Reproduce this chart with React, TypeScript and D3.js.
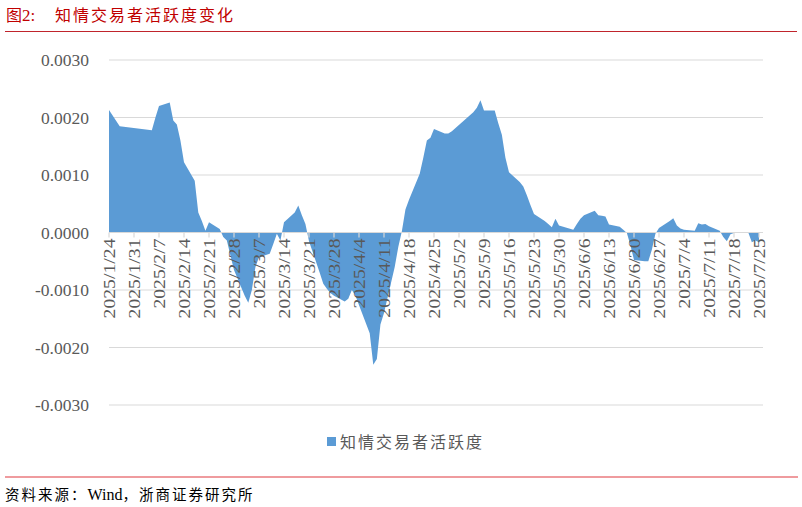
import React from 'react';
import * as d3 from 'd3';

// trading days and indicator values
const dates = [
  '2025-01-24', '2025-01-27',
  '2025-02-05', '2025-02-06', '2025-02-07', '2025-02-10', '2025-02-11', '2025-02-12', '2025-02-13', '2025-02-14',
  '2025-02-17', '2025-02-18', '2025-02-19', '2025-02-20', '2025-02-21', '2025-02-24', '2025-02-25', '2025-02-26',
  '2025-02-27', '2025-02-28',
  '2025-03-03', '2025-03-04', '2025-03-05', '2025-03-06', '2025-03-07', '2025-03-10', '2025-03-11', '2025-03-12',
  '2025-03-13', '2025-03-14', '2025-03-17', '2025-03-18', '2025-03-19', '2025-03-20', '2025-03-21', '2025-03-24',
  '2025-03-25', '2025-03-26', '2025-03-27', '2025-03-28', '2025-03-31',
  '2025-04-01', '2025-04-02', '2025-04-03', '2025-04-07', '2025-04-08', '2025-04-09', '2025-04-10', '2025-04-11',
  '2025-04-14', '2025-04-15', '2025-04-16', '2025-04-17', '2025-04-18', '2025-04-21', '2025-04-22', '2025-04-23',
  '2025-04-24', '2025-04-25', '2025-04-28', '2025-04-29', '2025-04-30',
  '2025-05-06', '2025-05-07', '2025-05-08', '2025-05-09', '2025-05-12', '2025-05-13', '2025-05-14', '2025-05-15',
  '2025-05-16', '2025-05-19', '2025-05-20', '2025-05-21', '2025-05-22', '2025-05-23', '2025-05-26', '2025-05-27',
  '2025-05-28', '2025-05-29', '2025-05-30',
  '2025-06-03', '2025-06-04', '2025-06-05', '2025-06-06', '2025-06-09', '2025-06-10', '2025-06-11', '2025-06-12',
  '2025-06-13', '2025-06-16', '2025-06-17', '2025-06-18', '2025-06-19', '2025-06-20', '2025-06-23', '2025-06-24',
  '2025-06-25', '2025-06-26', '2025-06-27', '2025-06-30',
  '2025-07-01', '2025-07-02', '2025-07-03', '2025-07-04', '2025-07-07', '2025-07-08', '2025-07-09', '2025-07-10',
  '2025-07-11', '2025-07-14', '2025-07-15', '2025-07-16', '2025-07-17', '2025-07-18', '2025-07-21', '2025-07-22',
  '2025-07-23', '2025-07-24', '2025-07-25',
];

const activity = [
  0.00213, 0.00185,
  0.00178, 0.0020, 0.0022, 0.00226, 0.00195, 0.00188, 0.0016, 0.00122,
  0.0009, 0.00035, 0.0002, 0.00003, 0.00018, 0.00006, -0.00008, -0.00014,
  -0.0004, -0.00065,
  -0.0011, -0.00122, -0.001, -0.0006, -0.00043, -0.00037, -0.0002, -0.00002,
  -0.00014, 0.00018, 0.00035, 0.00047, 0.0003, 0.00015, -0.00015, -0.0007,
  -0.00089, -0.00098, -0.00105, -0.0011, -0.0012,
  -0.00115, -0.001, -0.0011, -0.00175, -0.0023, -0.0022, -0.0016, -0.0014,
  -0.0006, -0.00025, 0.00002, 0.0004, 0.00057, 0.00102, 0.0013, 0.0016,
  0.00165, 0.0018, 0.00172, 0.00172, 0.00176,
  0.00209, 0.00217, 0.0023, 0.00212, 0.00212, 0.0019, 0.0017, 0.0013,
  0.00105, 0.00088, 0.0008, 0.00065, 0.00048, 0.00032, 0.0002, 0.00015,
  0.00009, 0.00024, 0.00012,
  0.00005, 0.00015, 0.00024, 0.0003, 0.00038, 0.0003, 0.00029, 0.00028,
  0.00014, 0.0001, 0.00005, -0.00001, -0.00022, -0.00048, -0.0005, -0.0005,
  -0.0003, -0.00002, 0.00008, 0.0002,
  0.00025, 0.00012, 0.00007, 0.00005, 0.00003, 0.00016, 0.00014, 0.00015,
  0.00011, 0.00003, -0.00008, -0.00015, -0.00003, -0.00001, 0.00001, 0.0,
  -0.00017, -0.00014, -0.00017,
];

const yTicks = [0.003, 0.002, 0.001, 0, -0.001, -0.002, -0.003];
const seriesName = '知情交易者活跃度';
const title = '知情交易者活跃度变化';

const width = 802;
const height = 507;
const serif = '"Times New Roman", "Liberation Serif", "Noto Sans CJK SC", serif';
const cjk = '"Noto Sans CJK SC", "Noto Sans CJK JP", sans-serif';

const parse = d3.timeParse('%Y-%m-%d');

const App: React.FC = () => {
  const points = dates.map((d, i) => ({ date: parse(d) as Date, value: activity[i] }));
  const start = parse('2025-01-24') as Date;

  const x = d3.scaleTime()
    .domain([start, parse('2025-07-25') as Date])
    .range([109, 759]);
  const y = d3.scaleLinear().domain([-0.003, 0.003]).range([405, 60]);

  const area = d3.area<{ date: Date; value: number }>()
    .x(d => x(d.date))
    .y0(y(0))
    .y1(d => y(d.value));

  // weekly ticks counted from the first date (Excel date axis, major unit 7 days)
  const ticks = d3.range(0, 27).map(k => d3.timeDay.offset(start, k * 7));
  const fmt = (d: Date) => `${d.getFullYear()}/${d.getMonth() + 1}/${d.getDate()}`;

  return (
    <svg width={width} height={height} style={{ position: 'absolute', left: 0, top: 0, background: '#fff' }}>
      {/* header */}
      <text x={6} y={21} fill="#c00000" fontSize={16} fontFamily={cjk}>
        <tspan>图</tspan>
        <tspan fontFamily={serif} fontSize={17}>2:</tspan>
        <tspan x={55} letterSpacing={2}>{title}</tspan>
      </text>
      <line x1={5} x2={797} y1={31.5} y2={31.5} stroke="#c0242c" strokeWidth={1.2} />

      {/* grid */}
      {yTicks.map(t => (
        <g key={t}>
          <line x1={109} x2={763} y1={y(t)} y2={y(t)} stroke="#d9d9d9" strokeWidth={1.2} />
          <text x={89} y={y(t)} dy="0.35em" textAnchor="end" fill="#595959" fontSize={17.5} fontFamily={serif}>
            {d3.format('.4f')(t).replace('−', '-')}
          </text>
        </g>
      ))}

      <path d={area(points) ?? ''} fill="#5b9bd5" />

      {/* x axis */}
      <line x1={109} x2={763} y1={y(0)} y2={y(0)} stroke="#d9d9d9" strokeWidth={1.2} />
      {ticks.map(t => (
        <g key={t.getTime()}>
          <line x1={x(t)} x2={x(t)} y1={y(0)} y2={y(0) + 5} stroke="#d9d9d9" strokeWidth={1.2} />
          <text
            transform={`translate(${x(t)},${y(0) + 6}) rotate(-90) scale(1.16,1)`}
            textAnchor="end"
            dy="0.35em"
            fill="#595959"
            fontSize={17}
            fontFamily={serif}
          >
            {fmt(t)}
          </text>
        </g>
      ))}

      {/* legend */}
      <rect x={327} y={437} width={9} height={9} fill="#5b9bd5" />
      <text x={340} y={442} dy="0.35em" fill="#595959" fontSize={16} letterSpacing={2} fontFamily={cjk}>
        {seriesName}
      </text>

      {/* footer */}
      <line x1={5} x2={798} y1={477} y2={477} stroke="#e0393e" strokeWidth={1.2} />
      <text x={5} y={495} dy="0.35em" fill="#000" fontSize={14.5} fontFamily={cjk}>
        <tspan letterSpacing={2}>资料来源：</tspan>
        <tspan fontFamily={serif} fontSize={16}>Wind</tspan>
        <tspan letterSpacing={2}>，浙商证券研究所</tspan>
      </text>
    </svg>
  );
};

export default App;
